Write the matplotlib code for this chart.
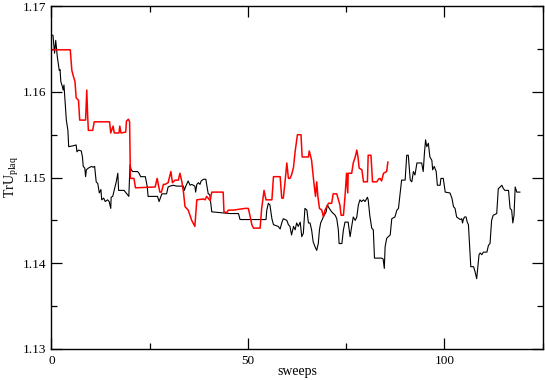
import matplotlib
matplotlib.use("Agg")
import matplotlib.pyplot as plt
from matplotlib.ticker import MultipleLocator, FormatStrFormatter

plt.rcParams['font.family'] = 'Liberation Serif'
plt.rcParams['mathtext.fontset'] = 'custom'
plt.rcParams['mathtext.rm'] = 'Liberation Serif'

# black run
black_x = [0, 0.4, 0.8, 1.1, 1.5, 2.0, 2.2, 2.4, 2.8, 3.0, 3.2, 3.5, 3.8, 4.2, 4.4, 5.5, 6.3, 6.5, 6.9,
           7.6, 7.9, 8.1, 8.5, 8.7, 8.9, 9.4, 10.2, 10.6, 11.0, 11.4, 11.8, 12.2, 12.6, 12.8, 13.3, 13.7,
           14.3, 14.7, 15.1, 15.2, 15.6, 16.5, 16.9, 17.1, 18.5, 19.7, 20.0, 20.3, 20.7, 21.9, 22.3, 22.7,
           23.9, 24.4, 24.6, 27.0, 27.4, 28.1, 29.3, 29.7, 30.2, 31.0, 31.9, 33.6, 33.8, 34.2, 34.4, 34.8,
           35.3, 35.7, 36.5, 36.7, 37.0, 37.4, 37.8, 38.1, 38.7, 39.3, 39.5, 39.9, 40.3, 40.8, 45.4, 47.6,
           48.0, 54.6, 54.8, 55.2, 55.6, 56.1, 56.5, 57.7, 58.2, 58.6, 59.0, 59.9, 60.3, 60.7, 61.1, 61.6,
           62.0, 62.4, 62.8, 63.3, 63.7, 64.1, 64.5, 65.0, 65.4, 65.8, 66.2, 66.6, 67.1, 67.5, 67.9, 68.2,
           68.5, 69.0, 69.4, 69.9, 70.2, 70.7, 71.3, 72.2, 72.6, 73.0, 73.2, 73.9, 74.3, 74.7, 75.5, 76.0,
           76.4, 76.8, 77.3, 77.7, 78.1, 78.5, 78.9, 79.4, 79.8, 80.4, 80.6, 81.0, 81.5, 81.9, 82.2, 84.0,
           84.4, 84.7, 84.9, 85.3, 85.7, 86.2, 86.6, 87.4, 87.9, 88.3, 88.7, 89.1, 90.0, 90.4, 90.8, 91.3,
           91.7, 92.1, 92.5, 93.0, 94.2, 94.6, 94.9, 95.2, 95.5, 95.9, 96.3, 96.8, 97.0, 97.4, 97.9, 98.2,
           98.9, 99.1, 99.7, 100.2, 101.4, 101.9, 102.3, 102.7, 103.1, 104.0, 104.4, 104.6, 104.8, 105.1,
           105.5, 105.8, 106.1, 106.3, 106.7, 107.4, 107.8, 108.2, 108.5, 108.8, 109.1, 109.5, 109.9, 110.8,
           111.2, 111.6, 112.0, 112.4, 113.3, 113.7, 114.2, 114.6, 115.0, 115.4, 116.3, 116.7, 117.1, 117.4,
           117.7, 118.0, 118.4, 119.2]
black_y = [1.1666, 1.1666, 1.1645, 1.1660, 1.1641, 1.1625, 1.1626, 1.1612, 1.1606, 1.1602, 1.1608, 1.1587,
           1.1567, 1.1555, 1.1536, 1.1537, 1.1538, 1.1530, 1.1532, 1.1531, 1.1524, 1.1513, 1.1511, 1.1501,
           1.1509, 1.1511, 1.1513, 1.1512, 1.1513, 1.1495, 1.1493, 1.1482, 1.1486, 1.1474, 1.1476, 1.1472,
           1.1474, 1.1472, 1.1464, 1.1477, 1.1478, 1.1495, 1.1505, 1.1485, 1.1485, 1.1478, 1.1515, 1.1509,
           1.1507, 1.1507, 1.1505, 1.1501, 1.1501, 1.1489, 1.1478, 1.1478, 1.1472, 1.1481, 1.1481, 1.1489,
           1.1490, 1.1491, 1.1490, 1.1490, 1.1485, 1.1490, 1.1492, 1.1496, 1.1491, 1.1492, 1.1490, 1.1483,
           1.1492, 1.1494, 1.1492, 1.1496, 1.1498, 1.1498, 1.1492, 1.1481, 1.1480, 1.1460, 1.1458, 1.1458,
           1.1451, 1.1451, 1.1462, 1.1470, 1.1468, 1.1452, 1.1445, 1.1443, 1.1440, 1.1447, 1.1452, 1.1450,
           1.1445, 1.1443, 1.1433, 1.1443, 1.1439, 1.1447, 1.1443, 1.1448, 1.1431, 1.1435, 1.1464, 1.1462,
           1.1447, 1.1447, 1.1439, 1.1425, 1.1419, 1.1415, 1.1423, 1.1439, 1.1447, 1.1452, 1.1456, 1.1460,
           1.1468, 1.1464, 1.1460, 1.1456, 1.1452, 1.1439, 1.1423, 1.1423, 1.1439, 1.1448, 1.1448, 1.1431,
           1.1443, 1.1454, 1.1450, 1.1454, 1.1468, 1.1474, 1.1472, 1.1474, 1.1472, 1.1477, 1.1474, 1.1456,
           1.1441, 1.1439, 1.1406, 1.1406, 1.1405, 1.1394, 1.1419, 1.1429, 1.1431, 1.1433, 1.1452, 1.1454,
           1.1462, 1.1464, 1.1480, 1.1497, 1.1497, 1.1526, 1.1526, 1.1497, 1.1495, 1.1507, 1.1503, 1.1517,
           1.1517, 1.1507, 1.1528, 1.1544, 1.1536, 1.1540, 1.1524, 1.1520, 1.1509, 1.1513, 1.1507, 1.1491,
           1.1491, 1.1499, 1.1499, 1.1483, 1.1482, 1.1476, 1.1466, 1.1464, 1.1454, 1.1451, 1.1452, 1.1447,
           1.1451, 1.1454, 1.1454, 1.1448, 1.1445, 1.1428, 1.1396, 1.1396, 1.1390, 1.1382, 1.1396, 1.1410,
           1.1412, 1.1410, 1.1413, 1.1413, 1.1421, 1.1423, 1.1450, 1.1456, 1.1458, 1.1487, 1.1489, 1.1491,
           1.1487, 1.1485, 1.1485, 1.1464, 1.1462, 1.1447, 1.1456, 1.1489, 1.1483, 1.1483]

# red run
red_x = [0, 4.8, 5.2, 5.6, 6.0, 6.3, 6.9, 7.2, 8.7, 9.0, 9.2, 9.4, 10.5, 10.9, 14.8, 15.1, 15.7, 16.0,
         17.2, 17.4, 17.7, 18.9, 19.1, 19.6, 19.9, 20.1, 21.0, 21.4, 26.4, 26.9, 27.2, 27.6, 28.0, 28.5,
         28.9, 29.7, 30.4, 30.8, 31.5, 32.3, 32.7, 33.2, 33.6, 34.0, 34.8, 35.7, 36.5, 37.0, 38.7, 39.1,
         39.5, 40.4, 40.8, 43.7, 43.9, 44.6, 45.0, 46.3, 49.3, 50.1, 50.5, 51.0, 51.4, 53.1, 53.5, 54.1,
         54.6, 56.1, 56.5, 58.2, 58.6, 59.0, 59.4, 59.9, 60.3, 60.7, 61.1, 61.6, 62.0, 62.6, 63.5, 63.8,
         65.4, 65.6, 66.0, 66.2, 66.8, 67.2, 67.5, 67.8, 68.2, 68.8, 69.2, 69.6, 70.5, 71.3, 71.7, 72.6,
         73.4, 73.7, 74.3, 74.7, 75.1, 75.4, 75.5, 76.4, 76.8, 77.3, 77.7, 78.0, 78.3, 79.0, 79.4, 80.4,
         80.6, 81.3, 81.7, 82.8, 83.2, 83.6, 84.0, 84.5, 85.3, 85.6]
red_y = [1.1649, 1.1649, 1.1625, 1.1618, 1.1612, 1.1593, 1.1590, 1.1567, 1.1567, 1.1602, 1.1575, 1.1555,
         1.1555, 1.1565, 1.1565, 1.1552, 1.1560, 1.1552, 1.1552, 1.1560, 1.1552, 1.1553, 1.1566, 1.1568,
         1.1565, 1.1499, 1.1499, 1.1488, 1.1489, 1.1499, 1.1492, 1.1483, 1.1483, 1.1492, 1.1492, 1.1494,
         1.1507, 1.1494, 1.1497, 1.1497, 1.1505, 1.1495, 1.1483, 1.1466, 1.1462, 1.1450, 1.1443, 1.1474,
         1.1475, 1.1474, 1.1478, 1.1473, 1.1483, 1.1483, 1.1460, 1.1459, 1.1462, 1.1462, 1.1464, 1.1464,
         1.1456, 1.1445, 1.1441, 1.1441, 1.1464, 1.1485, 1.1474, 1.1474, 1.1501, 1.1501, 1.1476, 1.1476,
         1.1493, 1.1517, 1.1499, 1.1499, 1.1503, 1.1512, 1.1530, 1.1550, 1.1550, 1.1524, 1.1524, 1.1531,
         1.1524, 1.1520, 1.1493, 1.1478, 1.1495, 1.1478, 1.1464, 1.1462, 1.1454, 1.1462, 1.1470, 1.1470,
         1.1481, 1.1481, 1.1468, 1.1456, 1.1456, 1.1478, 1.1505, 1.1482, 1.1505, 1.1505, 1.1517, 1.1524,
         1.1532, 1.1524, 1.1511, 1.1509, 1.1495, 1.1495, 1.1526, 1.1526, 1.1495, 1.1495, 1.1498, 1.1499,
         1.1496, 1.1505, 1.1507, 1.1518]

fig = plt.figure(figsize=(5.45, 3.8), dpi=100)
ax = fig.add_axes([0.0943, 0.0816, 0.9015, 0.9024])

ax.plot(black_x, black_y, color='black', linewidth=0.8)
ax.plot(red_x, red_y, color='red', linewidth=1.1)

ax.set_xlim(0, 125)
ax.set_ylim(1.13, 1.17)
ax.xaxis.set_major_locator(MultipleLocator(50))
ax.xaxis.set_minor_locator(MultipleLocator(25))
ax.yaxis.set_major_locator(MultipleLocator(0.01))
ax.yaxis.set_minor_locator(MultipleLocator(0.005))
ax.yaxis.set_major_formatter(FormatStrFormatter('%.2f'))
ax.tick_params(which='both', direction='in', top=True, right=True, labelsize=9.5, width=0.9)
ax.tick_params(which='major', length=8, pad=4)
ax.tick_params(which='minor', length=4)
for s in ax.spines.values():
    s.set_linewidth(1.0)

ax.set_xlabel('sweeps', fontsize=10, labelpad=-1)
ax.set_ylabel(r'TrU$_{\mathrm{plaq}}$', fontsize=10, labelpad=1)

fig.savefig('out.png', dpi=100)
